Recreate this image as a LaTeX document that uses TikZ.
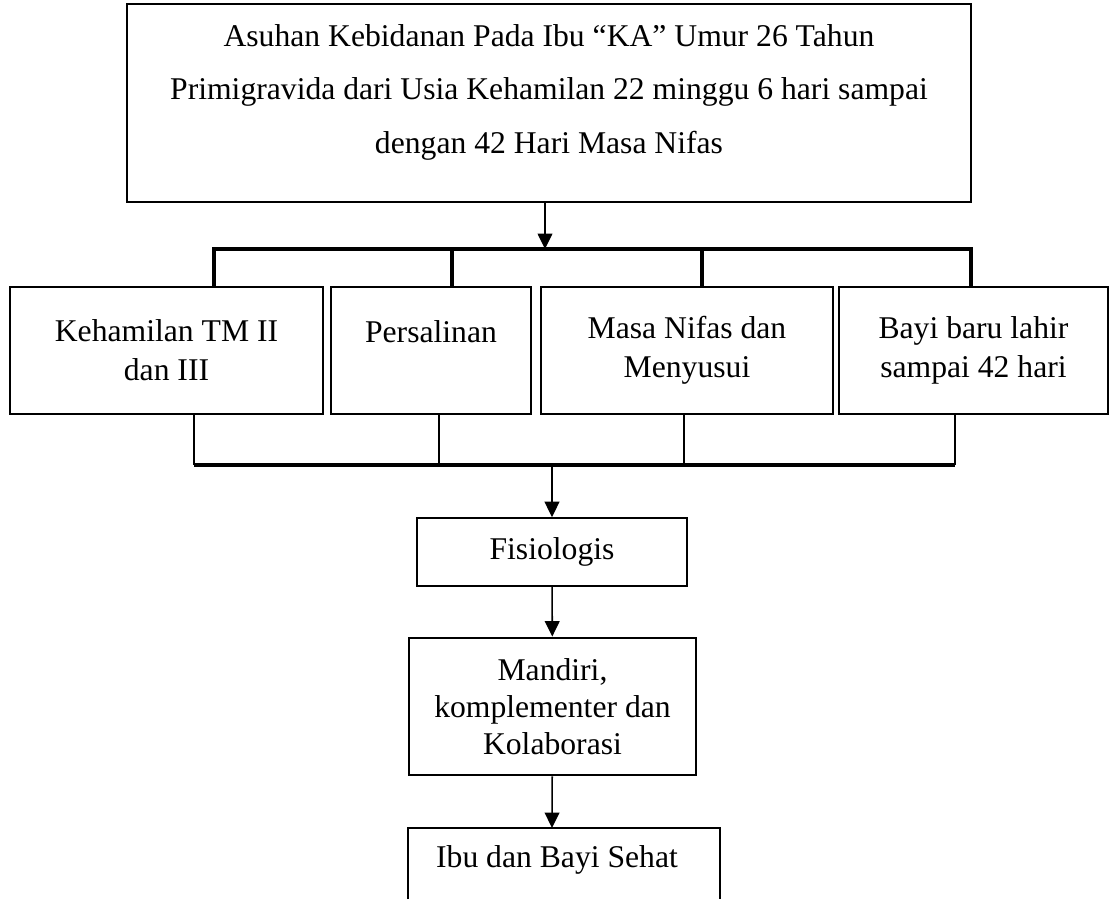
\documentclass[tikz,border=0pt]{standalone}
\usepackage{fontspec}
\setmainfont{Liberation Serif}
\usetikzlibrary{arrows.meta}
\tikzset{>={Triangle[width=4.2pt,length=4.4pt]}}
\tikzset{
  kotak/.style={draw, line width=0.45pt, align=center, inner sep=0pt,
    font=\fontsize{9}{11}\selectfont},
  garis/.style={line width=1.4pt, line join=miter},
  panah/.style={->, line width=0.45pt}
}

\begin{document}
\begin{tikzpicture}[x=0.01cm, y=-0.01cm]
  \fill[white] (0,0) rectangle (1111,899);
  \clip (0,0) rectangle (1111,899);

  \node[kotak, minimum width=8.44cm, minimum height=1.98cm, text depth=0.28cm,
    font=\fontsize{9}{15.2}\selectfont] (judul) at (549,103)
    {Asuhan Kebidanan Pada Ibu “KA” Umur 26 Tahun\\
     Primigravida dari Usia Kehamilan 22 minggu 6 hari sampai\\
     dengan 42 Hari Masa Nifas};

  \node[kotak, minimum width=3.13cm, minimum height=1.27cm] (hamil) at (166.5,350.5)
    {Kehamilan TM II\\dan III};
  \node[kotak, minimum width=2.00cm, minimum height=1.27cm] (salin) at (431,350.5)
    {Persalinan\\~};
  \node[kotak, minimum width=2.92cm, minimum height=1.27cm] (nifas) at (687,350.5)
    {Masa Nifas dan\\Menyusui};
  \node[kotak, minimum width=2.69cm, minimum height=1.27cm] (bayi) at (973.5,350.5)
    {Bayi baru lahir\\sampai 42 hari};

  \node[kotak, minimum width=2.70cm, minimum height=0.68cm] (fisio) at (552,552)
    {Fisiologis};
  \node[kotak, line width=0.8pt, minimum width=2.87cm, minimum height=1.37cm,
    font=\fontsize{9}{10.6}\selectfont] (mandiri) at (552.5,706.5)
    {Mandiri,\\komplementer dan\\Kolaborasi};
  \node[font=\fontsize{9}{11}\selectfont, inner sep=0pt] (sehat) at (557,860)
    {Ibu dan Bayi Sehat};
  \draw[line width=0.45pt] (408,899) |- (720,828) -- (720,899);

  \coordinate (a0) at (545,249);
  \coordinate (t1) at (214,249);
  \coordinate (t2) at (452,249);
  \coordinate (t3) at (702,249);
  \coordinate (t4) at (971,249);
  \draw[panah] (judul.south -| a0) -- (a0);
  \draw[garis] (t1 |- hamil.north) -- (t1) -- (t4) -- (t4 |- bayi.north);
  \draw[garis] (t2) -- (t2 |- salin.north);
  \draw[garis] (t3) -- (t3 |- nifas.north);

  \coordinate (s0) at (552,465);
  \coordinate (s1) at (194,465);
  \coordinate (s2) at (439,465);
  \coordinate (s3) at (684,465);
  \coordinate (s4) at (955,465);
  \draw[line width=0.4pt] (s1 |- hamil.south) -- (s1);
  \draw[line width=0.4pt] (s2 |- salin.south) -- (s2);
  \draw[line width=0.4pt] (s3 |- nifas.south) -- (s3);
  \draw[line width=0.4pt] (s4 |- bayi.south) -- (s4);
  \draw[garis] (s1) -- (s4);

  \coordinate (atas) at (552,828);
  \draw[panah] (s0) -- (fisio);
  \draw[panah] (fisio) -- (mandiri);
  \draw[panah] (mandiri) -- (atas);
\end{tikzpicture}
\end{document}
